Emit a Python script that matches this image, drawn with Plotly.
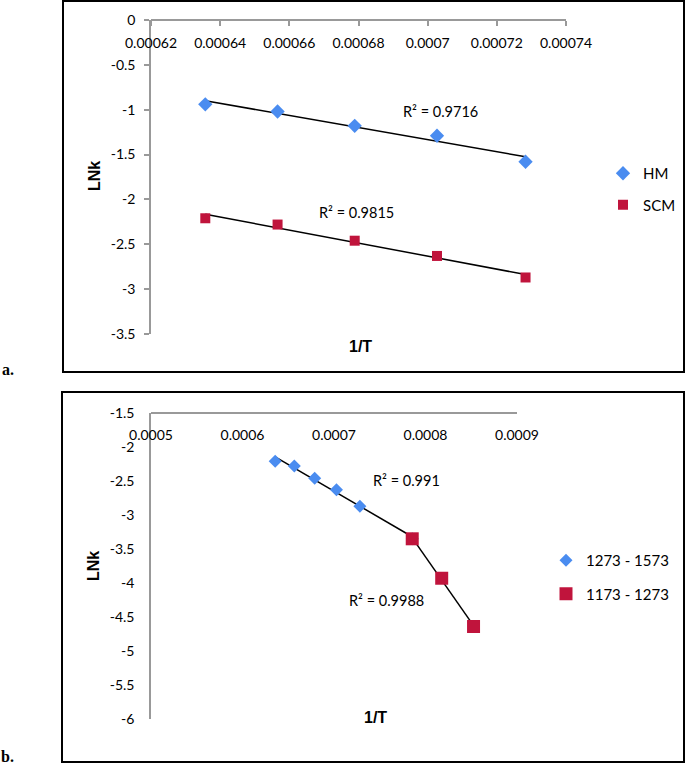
import numpy as np
import plotly.graph_objects as go

W, H = 685, 765

# ---------------- data: panel a ----------------
a_x = [0.0006357, 0.0006566, 0.0006789, 0.0007027, 0.0007283]
a_hm = [-0.94, -1.02, -1.18, -1.29, -1.58]
a_scm = [-2.21, -2.28, -2.46, -2.63, -2.87]
a_r2_hm = "R² = 0.9716"
a_r2_scm = "R² = 0.9815"
a_xticks = [0.00062, 0.00064, 0.00066, 0.00068, 0.0007, 0.00072, 0.00074]
a_xtext = ["0.00062", "0.00064", "0.00066", "0.00068", "0.0007", "0.00072", "0.00074"]
a_yticks = [0, -0.5, -1, -1.5, -2, -2.5, -3, -3.5]
a_ytext = ["0", "-0.5", "-1", "-1.5", "-2", "-2.5", "-3", "-3.5"]

# ---------------- data: panel b ----------------
b_x_hi = [0.0006357, 0.0006566, 0.0006789, 0.0007027, 0.0007283, 0.0007855]
b_y_hi = [-2.21, -2.28, -2.46, -2.63, -2.87, -3.35]
b_x_lo = [0.0007855, 0.0008177, 0.0008525]
b_y_lo = [-3.35, -3.93, -4.64]
b_r2_hi = "R² = 0.991"
b_r2_lo = "R² = 0.9988"
b_xticks = [0.0005, 0.0006, 0.0007, 0.0008, 0.0009]
b_xtext = ["0.0005", "0.0006", "0.0007", "0.0008", "0.0009"]
b_yticks = [-1.5, -2, -2.5, -3, -3.5, -4, -4.5, -5, -5.5, -6]
b_ytext = ["-1.5", "-2", "-2.5", "-3", "-3.5", "-4", "-4.5", "-5", "-5.5", "-6"]

BLUE = "#4a8cf0"
RED = "#c0143c"
AXC = "#999999"
FONT = "Lato"
FS = 14
FS_TXT = 14.5


def px(x):
    return x / W


def py(y):
    return 1 - y / H


def trend(xs, ys):
    m, c = np.polyfit(xs, ys, 1)
    xe = np.array([min(xs), max(xs)])
    return xe, m * xe + c


fig = go.Figure()

# panel a
for xs, ys in [(a_x, a_hm), (a_x, a_scm)]:
    tx, ty = trend(xs, ys)
    fig.add_trace(go.Scatter(x=tx, y=ty, mode="lines", line=dict(color="black", width=1.5),
                             showlegend=False, xaxis="x", yaxis="y", hoverinfo="skip"))
fig.add_trace(go.Scatter(x=a_x, y=a_hm, mode="markers", name="HM",
                         marker=dict(symbol="diamond", size=11, color=BLUE),
                         xaxis="x", yaxis="y", legend="legend", legendgroup="hm"))
fig.add_trace(go.Scatter(x=a_x, y=a_scm, mode="markers", name="SCM",
                         marker=dict(symbol="square", size=10, color=RED),
                         xaxis="x", yaxis="y", legend="legend", legendgroup="scm"))

# panel b
for xs, ys in [(b_x_hi, b_y_hi), (b_x_lo, b_y_lo)]:
    tx, ty = trend(xs, ys)
    fig.add_trace(go.Scatter(x=tx, y=ty, mode="lines", line=dict(color="black", width=1.5),
                             showlegend=False, xaxis="x2", yaxis="y2", hoverinfo="skip"))
fig.add_trace(go.Scatter(x=b_x_hi, y=b_y_hi, mode="markers", name="1273 - 1573",
                         marker=dict(symbol="diamond", size=10, color=BLUE),
                         xaxis="x2", yaxis="y2", legend="legend2", legendgroup="hi"))
fig.add_trace(go.Scatter(x=b_x_lo, y=b_y_lo, mode="markers", name="1173 - 1273",
                         marker=dict(symbol="square", size=13, color=RED),
                         xaxis="x2", yaxis="y2", legend="legend2", legendgroup="lo"))

tickfont = dict(family=FONT, size=FS, color="#000")

a_ydom = [py(334), py(20)]
b_ydom = [py(719), py(413)]

common = dict(showgrid=False, zeroline=False, showline=True, linecolor=AXC, linewidth=1.5,
              tickfont=tickfont, automargin=False)

fig.update_layout(
    template="none",
    width=W, height=H, margin=dict(l=0, r=0, t=0, b=0, pad=0, autoexpand=False),
    paper_bgcolor="white", plot_bgcolor="rgba(0,0,0,0)",
    font=dict(family=FONT, size=FS, color="#000"),
    xaxis=dict(domain=[px(151), px(566)], range=[0.00062, 0.00074], anchor="free",
               position=a_ydom[1], side="bottom", ticks="outside", ticklen=5,
               tickcolor=AXC, tickwidth=1.5, tickvals=a_xticks, ticktext=a_xtext,
               ticklabelstandoff=5, **common),
    yaxis=dict(domain=a_ydom, range=[-3.5, 0], anchor="x", ticks="outside", ticklen=5,
               tickcolor=AXC, tickwidth=1.5, tickvals=a_yticks, ticktext=a_ytext,
               ticklabelstandoff=6, **common),
    xaxis2=dict(domain=[px(151), px(517)], range=[0.0005, 0.0009], anchor="free",
                position=b_ydom[1], side="bottom", ticks="",
                tickvals=b_xticks, ticktext=b_xtext, ticklabelstandoff=9, **common),
    yaxis2=dict(domain=b_ydom, range=[-6, -1.5], anchor="x2", ticks="",
                tickvals=b_yticks, ticktext=b_ytext, ticklabelstandoff=12, **common),
    legend=dict(x=px(603), y=py(157), xanchor="left", yanchor="top", bgcolor="rgba(0,0,0,0)",
                font=dict(family=FONT, size=FS_TXT + 0.5), tracegroupgap=9, itemwidth=30),
    legend2=dict(x=px(546), y=py(544), xanchor="left", yanchor="top", bgcolor="rgba(0,0,0,0)",
                 font=dict(family=FONT, size=FS_TXT + 0.5), tracegroupgap=11, itemwidth=30),
    showlegend=True,
)

# frames
fig.add_shape(type="rect", xref="paper", yref="paper", x0=px(63), x1=px(684), y0=py(372), y1=py(1),
              line=dict(color="black", width=2))
fig.add_shape(type="rect", xref="paper", yref="paper", x0=px(62), x1=px(684), y0=py(762), y1=py(392),
              line=dict(color="black", width=2))

ann = [
    (a_r2_hm, 440, 111, FS_TXT, False, FONT, 0),
    (a_r2_scm, 356, 212, FS_TXT, False, FONT, 0),
    ("1/T", 360, 347, 16, True, "Liberation Sans", 0),
    ("LNk", 95, 176, 16, True, "Liberation Sans", -90),
    (b_r2_hi, 406, 480, FS_TXT, False, FONT, 0),
    (b_r2_lo, 386, 600, FS_TXT, False, FONT, 0),
    ("1/T", 375, 717, 16, True, "Liberation Sans", 0),
    ("LNk", 93, 566, 16, True, "Liberation Sans", -90),
    ("a.", 8, 369, 16, True, "Liberation Serif", 0),
    ("b.", 8, 756, 16, True, "Liberation Serif", 0),
]
for text, x, y, size, bold, fam, ang in ann:
    fig.add_annotation(x=px(x), y=py(y), xref="paper", yref="paper", showarrow=False,
                       text=f"<b>{text}</b>" if bold else text, textangle=ang,
                       font=dict(family=fam, size=size, color="black"),
                       xanchor="center", yanchor="middle")

fig.write_html("out.html", config={"displayModeBar": False},
               post_script="document.body.style.margin='0';document.body.style.overflow='hidden';")
